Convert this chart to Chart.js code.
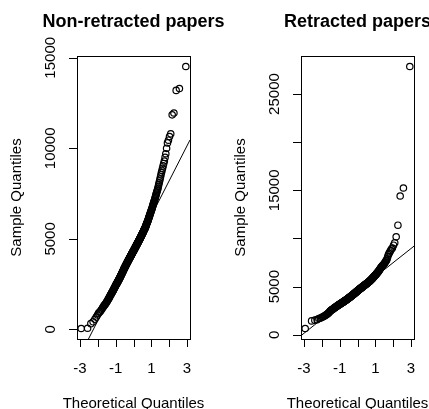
<!DOCTYPE html>
<html>
<head>
<meta charset="utf-8">
<script src="https://cdn.jsdelivr.net/npm/chart.js@4.4.0/dist/chart.umd.min.js"></script>
<style>
    html, body {margin: 0; padding: 0; background: #fff; overflow: hidden; width: 429px; height: 409px;}
    canvas {position: absolute; top: 0;}
    #non-retracted-qq {left: 0;}
    #retracted-qq {left: 224px;}
</style>
</head>
<body>
<canvas id="non-retracted-qq" width="224" height="409"></canvas>
<canvas id="retracted-qq" width="215" height="409"></canvas>
<script>
// sample values (sorted)
const nonRetracted = [
    50, 65, 320, 420, 560, 680, 800, 900, 950, 1000,
    1070, 1130, 1190, 1250, 1300, 1340, 1380, 1420, 1460, 1500,
    1540, 1580, 1620, 1660, 1700, 1740, 1780, 1820, 1860, 1900,
    1930, 1960, 1990, 2020, 2050, 2080, 2110, 2140, 2170, 2200,
    2230, 2260, 2290, 2310, 2340, 2370, 2400, 2420, 2450, 2480,
    2500, 2520, 2540, 2570, 2590, 2610, 2630, 2660, 2680, 2700,
    2720, 2740, 2770, 2790, 2810, 2830, 2850, 2880, 2900, 2920, 2940, 2960, 2990, 3010, 3030,
    3050, 3070, 3090, 3120, 3140, 3160, 3180, 3200, 3220, 3240, 3260, 3280, 3300, 3330, 3350,
    3370, 3390, 3400, 3420, 3440, 3460, 3480, 3490, 3510, 3530, 3550, 3570, 3580, 3600, 3620,
    3640, 3650, 3670, 3690, 3700, 3720, 3740, 3750, 3770, 3790, 3800, 3820, 3840, 3850, 3870,
    3890, 3900, 3920, 3930, 3950, 3960, 3980, 4000, 4010, 4030, 4040, 4060, 4070, 4090, 4100,
    4120, 4130, 4150, 4170, 4180, 4200, 4210, 4230, 4240, 4260, 4270, 4290, 4300, 4320, 4330,
    4350, 4360, 4380, 4390, 4410, 4420, 4440, 4450, 4470, 4490, 4500, 4520, 4530, 4550, 4560,
    4580, 4600, 4610, 4630, 4640, 4660, 4680, 4690, 4710, 4720, 4740, 4750, 4770, 4780, 4800,
    4820, 4830, 4850, 4870, 4880, 4900, 4920, 4930, 4950, 4970, 4980, 5000, 5020, 5030, 5050,
    5070, 5090, 5100, 5120, 5140, 5160, 5180, 5200, 5220, 5240, 5250, 5270, 5290, 5310, 5330,
    5350, 5370, 5390, 5410, 5430, 5460, 5480, 5500, 5520, 5540, 5560, 5580, 5600, 5620, 5640,
    5670, 5700, 5730, 5760, 5790, 5820, 5850, 5880, 5900, 5930, 5960, 5990, 6020, 6050, 6080,
    6120, 6160, 6200, 6230, 6270, 6310, 6350, 6390, 6420, 6460, 6500, 6540, 6580, 6610, 6650,
    6700, 6750, 6800, 6850, 6900, 6950, 7000, 7050, 7100, 7150,
    7210, 7270, 7340, 7400, 7470, 7530, 7600, 7660, 7730, 7800,
    7900, 8000, 8100, 8200, 8300,
    8420, 8540, 8660, 8780, 8900,
    9030, 9160, 9300, 9500, 9700,
    10000, 10300, 10450, 10650, 10800, 11850, 11950, 13200, 13300, 14520
];

const retracted = [
    650, 1440, 1520, 1570, 1680, 1720, 1790, 1850, 1900, 1950,
    2000, 2060, 2110, 2160, 2200, 2260, 2320, 2380, 2440, 2500,
    2530, 2560, 2590, 2620, 2650, 2680, 2710, 2740, 2770, 2800,
    2820, 2840, 2870, 2890, 2910, 2930, 2950, 2980, 3000, 3020,
    3040, 3060, 3080, 3090, 3110, 3130, 3150, 3160, 3180, 3200,
    3210, 3230, 3240, 3260, 3270, 3290, 3300, 3320, 3330, 3350,
    3360, 3380, 3390, 3410, 3420, 3440, 3450, 3460, 3480, 3490, 3510, 3520, 3530, 3550, 3560,
    3570, 3590, 3600, 3610, 3630, 3640, 3650, 3670, 3680, 3690, 3710, 3720, 3730, 3750, 3760,
    3770, 3790, 3800, 3810, 3830, 3840, 3850, 3870, 3880, 3890, 3910, 3920, 3930, 3950, 3960,
    3970, 3990, 4000, 4010, 4030, 4040, 4050, 4070, 4080, 4090, 4100, 4120, 4130, 4140, 4150,
    4160, 4180, 4190, 4200, 4220, 4230, 4250, 4260, 4270, 4290, 4300, 4310, 4330, 4340, 4350,
    4360, 4380, 4390, 4400, 4420, 4430, 4450, 4460, 4470, 4490, 4500, 4510, 4530, 4540, 4550,
    4560, 4580, 4590, 4600, 4620, 4630, 4640, 4650, 4670, 4680, 4690, 4710, 4720, 4730, 4740,
    4750, 4770, 4780, 4790, 4800, 4820, 4830, 4840, 4860, 4870, 4880, 4890, 4910, 4920, 4930,
    4940, 4960, 4970, 4980, 5000, 5010, 5020, 5030, 5050, 5060, 5070, 5080, 5100, 5110, 5120,
    5130, 5150, 5160, 5170, 5190, 5200, 5210, 5230, 5240, 5250, 5270, 5280, 5290, 5310, 5320,
    5330, 5350, 5360, 5380, 5390, 5410, 5420, 5440, 5450, 5470, 5480, 5500, 5510, 5530, 5540,
    5560, 5580, 5600, 5620, 5640, 5660, 5680, 5700, 5720, 5740, 5760, 5780, 5800, 5830, 5850,
    5880, 5900, 5930, 5960, 5980, 6010, 6040, 6060, 6090, 6120, 6140, 6170, 6200, 6220, 6250,
    6280, 6320, 6350, 6390, 6420, 6460, 6490, 6530, 6560, 6600,
    6650, 6700, 6750, 6800, 6850, 6900, 6950, 7000, 7050, 7100,
    7150, 7200, 7250, 7300, 7350,
    7430, 7510, 7590, 7670, 7750,
    7900, 8100, 8300, 8450, 8600,
    8750, 8900, 9000, 9300, 9550, 10170, 11380, 14410, 15240, 27860
];

const panelTitles = ['Non-retracted papers', 'Retracted papers'];
const xAxisTitle = 'Theoretical Quantiles';
const yAxisTitle = 'Sample Quantiles';

const xTicks = [-3, -2, -1, 0, 1, 2, 3];
const xTickLabels = ['-3', '', '-1', '', '1', '', '3'];
const leftYTicks = [0, 5000, 10000, 15000];
const leftYTickLabels = ['0', '5000', '10000', '15000'];
const rightYTicks = [0, 5000, 10000, 15000, 20000, 25000];
const rightYTickLabels = ['0', '5000', '', '15000', '', '25000'];

const FONT = '"Liberation Sans", Arial, sans-serif';

// inverse normal cdf (Acklam)
function qnorm(p) {
    const a = [-3.969683028665376e+01, 2.209460984245205e+02, -2.759285104469687e+02, 1.383577518672690e+02, -3.066479806614716e+01, 2.506628277459239e+00];
    const b = [-5.447609879822406e+01, 1.615858368580409e+02, -1.556989798598866e+02, 6.680131188771972e+01, -1.328068155288572e+01];
    const c = [-7.784894002430293e-03, -3.223964580411365e-01, -2.400758277161838e+00, -2.549732539343734e+00, 4.374664141464968e+00, 2.938163982698783e+00];
    const d = [7.784695709041462e-03, 3.224671290700398e-01, 2.445134137142996e+00, 3.754408661907416e+00];
    const plow = 0.02425;
    let q, r;
    if (p < plow) {
        q = Math.sqrt(-2 * Math.log(p));
        return (((((c[0] * q + c[1]) * q + c[2]) * q + c[3]) * q + c[4]) * q + c[5]) / ((((d[0] * q + d[1]) * q + d[2]) * q + d[3]) * q + 1);
    }
    if (p > 1 - plow) {
        q = Math.sqrt(-2 * Math.log(1 - p));
        return -(((((c[0] * q + c[1]) * q + c[2]) * q + c[3]) * q + c[4]) * q + c[5]) / ((((d[0] * q + d[1]) * q + d[2]) * q + d[3]) * q + 1);
    }
    q = p - 0.5;
    r = q * q;
    return (((((a[0] * r + a[1]) * r + a[2]) * r + a[3]) * r + a[4]) * r + a[5]) * q / (((((b[0] * r + b[1]) * r + b[2]) * r + b[3]) * r + b[4]) * r + 1);
}

function quantile7(sorted, p) {
    const h = (sorted.length - 1) * p;
    const lo = Math.floor(h);
    return sorted[lo] + (h - lo) * (sorted[Math.min(lo + 1, sorted.length - 1)] - sorted[lo]);
}

// R style 4% range extension
function rRange(lo, hi) {
    const ext = (hi - lo) * 0.04;
    return [lo - ext, hi + ext];
}

const rAxesPlugin = {
    id: 'rAxes',
    afterDraw(chart, args, opts) {
        const ctx = chart.ctx;
        const area = chart.chartArea;
        const xs = chart.scales.x, ys = chart.scales.y;
        ctx.save();
        ctx.strokeStyle = '#000';
        ctx.lineWidth = 1;
        ctx.strokeRect(area.left + 0.5, area.top + 0.5, area.right - area.left, area.bottom - area.top);

        ctx.beginPath();
        xTicks.forEach(v => {
            const px = Math.round(xs.getPixelForValue(v)) + 0.5;
            ctx.moveTo(px, area.bottom);
            ctx.lineTo(px, area.bottom + 8);
        });
        opts.yTicks.forEach(v => {
            const py = Math.round(ys.getPixelForValue(v)) + 0.5;
            ctx.moveTo(area.left, py);
            ctx.lineTo(area.left - 8, py);
        });
        ctx.stroke();

        ctx.fillStyle = '#000';
        ctx.font = '15px ' + FONT;
        ctx.textAlign = 'center';
        ctx.textBaseline = 'alphabetic';
        xTicks.forEach((v, i) => {
            if (xTickLabels[i]) ctx.fillText(xTickLabels[i], xs.getPixelForValue(v), 373);
        });
        ctx.fillText(xAxisTitle, (area.left + area.right) / 2, 408);

        opts.yTicks.forEach((v, i) => {
            if (!opts.yTickLabels[i]) return;
            ctx.save();
            ctx.translate(area.left - 22, ys.getPixelForValue(v));
            ctx.rotate(-Math.PI / 2);
            ctx.fillText(opts.yTickLabels[i], 0, 0);
            ctx.restore();
        });

        ctx.save();
        ctx.translate(area.left - 56, (area.top + area.bottom) / 2);
        ctx.rotate(-Math.PI / 2);
        ctx.fillText(yAxisTitle, 0, 0);
        ctx.restore();

        ctx.font = 'bold 18px ' + FONT;
        ctx.fillText(opts.title, (area.left + area.right) / 2, 27);
        ctx.restore();
    }
};

function drawQQ(canvasId, sample, title, yTicks, yTickLabels, rightPad) {
    const sorted = sample.slice().sort((a, b) => a - b);
    const n = sorted.length;
    const theo = sorted.map((_, i) => qnorm((i + 0.5) / n));
    const points = sorted.map((v, i) => ({x: theo[i], y: v}));

    // qqline through the quartiles
    const q1 = quantile7(sorted, 0.25), q3 = quantile7(sorted, 0.75);
    const slope = (q3 - q1) / (qnorm(0.75) - qnorm(0.25));
    const intercept = q1 - slope * qnorm(0.25);

    const xr = rRange(theo[0], theo[n - 1]);
    const yr = rRange(sorted[0], sorted[n - 1]);

    new Chart(document.getElementById(canvasId).getContext('2d'), {
        type: 'scatter',
        data: {
            datasets: [
                {
                    data: points,
                    pointStyle: 'circle',
                    pointRadius: 3.2,
                    pointBorderWidth: 1.2,
                    pointBorderColor: '#000',
                    pointBackgroundColor: 'rgba(0,0,0,0)'
                },
                {
                    type: 'line',
                    data: [
                        {x: xr[0], y: intercept + slope * xr[0]},
                        {x: xr[1], y: intercept + slope * xr[1]}
                    ],
                    borderColor: '#000',
                    borderWidth: 1,
                    pointRadius: 0,
                    clip: 0
                }
            ]
        },
        options: {
            responsive: false,
            animation: false,
            devicePixelRatio: 1,
            layout: {
                padding: {left: 77, right: rightPad, top: 56, bottom: 70}
            },
            plugins: {
                legend: {display: false},
                tooltip: {enabled: false},
                rAxes: {title: title, yTicks: yTicks, yTickLabels: yTickLabels}
            },
            scales: {
                x: {type: 'linear', display: false, min: xr[0], max: xr[1]},
                y: {type: 'linear', display: false, min: yr[0], max: yr[1]}
            }
        },
        plugins: [rAxesPlugin]
    });
}

drawQQ('non-retracted-qq', nonRetracted, panelTitles[0], leftYTicks, leftYTickLabels, 34);
drawQQ('retracted-qq', retracted, panelTitles[1], rightYTicks, rightYTickLabels, 25);
</script>
</body>
</html>
